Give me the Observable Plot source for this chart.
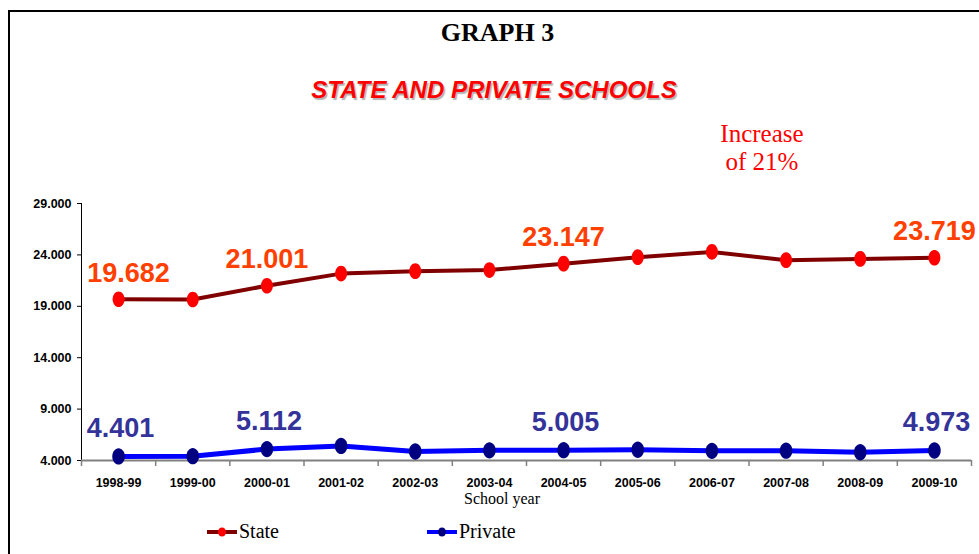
<!DOCTYPE html>
<html>
<head>
<meta charset="utf-8">
<script src="https://cdn.jsdelivr.net/npm/d3@7"></script>
<script src="https://cdn.jsdelivr.net/npm/@observablehq/plot@0.6"></script>
<style>
  html, body { margin: 0; padding: 0; background: #fff; }
  #wrap { position: relative; width: 979px; height: 554px; overflow: hidden; background: #fff; }
  #frame { position: absolute; left: 8px; top: 10px; right: -10px; bottom: -10px;
           border-top: 2.5px solid #000; border-left: 2.5px solid #000; }
  .abs { position: absolute; white-space: nowrap; }
  #title { left: 0; width: 995px; top: 18px; text-align: center;
           font: bold 26px "Liberation Serif", "Times New Roman", serif; color: #000; }
  #subtitle { left: 0; width: 988px; top: 76px; text-align: center;
              font: italic bold 24px "Liberation Sans", Arial, sans-serif; color: #ff0000;
              text-shadow: 1.5px 1.5px 1px rgba(0,0,0,0.3); }
  #note { left: 662px; width: 200px; top: 120px; text-align: center; line-height: 25px;
          font: 25px "Liberation Serif", "Times New Roman", serif; color: #ff0000; }
  #xlabel { left: 402px; width: 200px; top: 490px; text-align: center;
            font: 16px "Liberation Serif", "Times New Roman", serif; color: #000; }
  .leg { top: 520px; font: 20px "Liberation Serif", "Times New Roman", serif; color: #000;
         display: flex; align-items: center; }
  .leg svg { margin-right: 1px; }
  #chart { position: absolute; left: 0; top: 0; }
</style>
</head>
<body>
<div id="wrap">
  <div id="frame"></div>
  <div id="chart"></div>
  <div id="title" class="abs">GRAPH 3</div>
  <div id="subtitle" class="abs">STATE AND PRIVATE SCHOOLS</div>
  <div id="note" class="abs">Increase<br>of 21%</div>
  <div id="xlabel" class="abs">School year</div>
  <div id="leg1" class="abs leg" style="left:207px"></div>
  <div id="leg2" class="abs leg" style="left:427px"></div>
</div>
<script>
// ---- data ----
const years = ["1998-99","1999-00","2000-01","2001-02","2002-03","2003-04",
               "2004-05","2005-06","2006-07","2007-08","2008-09","2009-10"];
const stateValues   = [19682, 19660, 21001, 22180, 22420, 22520, 23147, 23780, 24290, 23490, 23610, 23719];
const privateValues = [4401, 4420, 5112, 5420, 4870, 4990, 5005, 5050, 4940, 4960, 4800, 4973];
const labeledIndex  = [0, 2, 6, 11];
const yTicks = [4000, 9000, 14000, 19000, 24000, 29000];
const seriesNames = ["State", "Private"];

const loc = d3.formatLocale({decimal: ",", thousands: ".", grouping: [3], currency: ["", ""]});
const fmt = loc.format(",");

const stateData = stateValues.map((v, i) => ({i, v}));
const privateData = privateValues.map((v, i) => ({i, v}));
const stateLabels = stateData.filter(d => labeledIndex.includes(d.i));
const privateLabels = privateData.filter(d => labeledIndex.includes(d.i));

// vertical ellipse marker
function ellipseSymbol(stretch) {
  return {
    draw(ctx, size) {
      const r = Math.sqrt(size / Math.PI);
      const rx = r, ry = r * stretch, k = 0.5523;
      ctx.moveTo(rx, 0);
      ctx.bezierCurveTo(rx, k * ry, k * rx, ry, 0, ry);
      ctx.bezierCurveTo(-k * rx, ry, -rx, k * ry, -rx, 0);
      ctx.bezierCurveTo(-rx, -k * ry, -k * rx, -ry, 0, -ry);
      ctx.bezierCurveTo(k * rx, -ry, rx, -k * ry, rx, 0);
      ctx.closePath();
    }
  };
}
const ell = ellipseSymbol(1.3);

const boundaries = d3.range(-0.5, years.length, 1);

const labelFont = {fontFamily: "Liberation Sans, Arial, sans-serif", fontWeight: "bold", fontSize: 27};

const plot = Plot.plot({
  width: 979,
  height: 554,
  marginLeft: 81,
  marginRight: 8,
  marginTop: 203,
  marginBottom: 94,
  style: {fontFamily: "Liberation Sans, Arial, sans-serif", fontSize: "12.5px", fontWeight: "bold", background: "transparent", overflow: "visible"},
  x: {domain: [-0.5, years.length - 0.5], axis: null, label: null},
  y: {domain: [yTicks[0], yTicks[yTicks.length - 1]], axis: null, label: null},
  marks: [
    Plot.ruleX([-0.5], {y1: yTicks[0], y2: yTicks[yTicks.length - 1], stroke: "#000", strokeWidth: 1}),
    Plot.axisY({ticks: yTicks, tickSize: 4, tickPadding: 6, tickFormat: fmt, label: null, stroke: "#000", strokeWidth: 1, fill: "#000"}),
    Plot.ruleY([yTicks[0]], {stroke: "#808080", strokeWidth: 2}),
    Plot.axisX({ticks: boundaries, tickSize: 6, tickFormat: () => "", label: null, stroke: "#808080", strokeWidth: 1.5}),
    Plot.axisX({ticks: d3.range(years.length), tickSize: 0, tickPadding: 18, tickFormat: i => years[i], label: null, fill: "#000"}),
    Plot.line(stateData, {x: "i", y: "v", stroke: "#800000", strokeWidth: 4}),
    Plot.dot(stateData, {x: "i", y: "v", r: 6, symbol: ell, fill: "#ff0000", stroke: "none"}),
    Plot.line(privateData, {x: "i", y: "v", stroke: "#0000ff", strokeWidth: 5}),
    Plot.dot(privateData, {x: "i", y: "v", r: 6.3, symbol: ell, fill: "#000080", stroke: "none"}),
    Plot.text(stateLabels.filter(d => d.i === 0), {x: "i", y: "v", text: d => fmt(d.v), dx: 10, dy: -17, lineAnchor: "bottom", fill: "#ff4000", ...labelFont}),
    Plot.text(stateLabels.filter(d => d.i !== 0), {x: "i", y: "v", text: d => fmt(d.v), dy: -18, lineAnchor: "bottom", fill: "#ff4000", ...labelFont}),
    Plot.text(privateLabels, {x: "i", y: "v", text: d => fmt(d.v), dx: 2, dy: -19, lineAnchor: "bottom", fill: "#333399", ...labelFont})
  ]
});
document.getElementById("chart").appendChild(plot);

// legend
function swatch(lineColor, dotColor) {
  return `<svg width="31" height="14" viewBox="0 0 31 14"><line x1="0" x2="30" y1="7" y2="7" stroke="${lineColor}" stroke-width="4"/><ellipse cx="15" cy="7" rx="4" ry="4.5" fill="${dotColor}"/></svg>`;
}
document.getElementById("leg1").innerHTML = swatch("#800000", "#ff0000") + `<span>${seriesNames[0]}</span>`;
document.getElementById("leg2").innerHTML = swatch("#0000ff", "#000080") + `<span>${seriesNames[1]}</span>`;
</script>
</body>
</html>
